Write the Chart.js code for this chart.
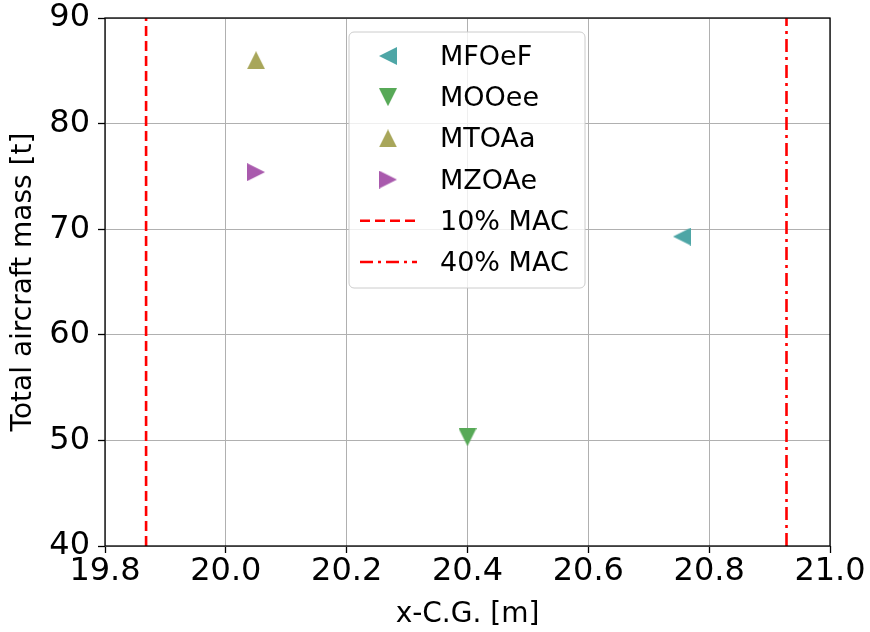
<!DOCTYPE html>
<html>
<head>
<meta charset="utf-8">
<script src="https://cdn.jsdelivr.net/npm/chart.js@4"></script>
<style>
  html, body { margin: 0; padding: 0; background: #fff; }
  #wrap { width: 870px; height: 632px; position: relative; }
</style>
</head>
<body>
<div id="wrap"><canvas id="cgChart"></canvas></div>
<script>
// --- data ---
const seriesNames = ['MFOeF', 'MOOee', 'MTOAa', 'MZOAe'];
const seriesX = [20.755, 20.40, 20.05, 20.05];
const seriesY = [69.3, 50.3, 86.0, 75.4];
const seriesColors = ['#4ea6a6', '#57a957', '#a8a65a', '#a95aad'];
const seriesRotation = [270, 180, 0, 90]; // left, down, up, right

const macNames = ['10% MAC', '40% MAC'];
const macX = [19.868, 20.928];
const macDash = [[10, 5], [13, 5, 3, 5]];

const xTickValues = [19.8, 20.0, 20.2, 20.4, 20.6, 20.8, 21.0];
const yTickValues = [40, 50, 60, 70, 80, 90];

Chart.defaults.font.family = 'DejaVu Sans';
Chart.defaults.color = '#000';

// matplotlib-like isosceles triangle, apex up; rotated by Chart.js
function triangle(color) {
  const c = document.createElement('canvas');
  c.width = 18; c.height = 18;
  const g = c.getContext('2d');
  g.fillStyle = color;
  g.beginPath();
  g.moveTo(9, 0); g.lineTo(18, 18); g.lineTo(0, 18);
  g.closePath(); g.fill();
  return c;
}

const datasets = [];
seriesNames.forEach((name, i) => {
  datasets.push({
    type: 'scatter',
    label: name,
    data: [{ x: seriesX[i], y: seriesY[i] }],
    pointStyle: triangle(seriesColors[i]),
    rotation: seriesRotation[i],
    backgroundColor: seriesColors[i],
    borderColor: seriesColors[i]
  });
});
macNames.forEach((name, i) => {
  datasets.push({
    type: 'line',
    label: name,
    data: [{ x: macX[i], y: yTickValues[0] }, { x: macX[i], y: yTickValues[yTickValues.length - 1] }],
    borderColor: '#ff0000',
    borderWidth: 2.6,
    borderDash: macDash[i],
    pointRadius: 0,
    fill: false
  });
});

// top/right spines + full frame
const frame = {
  id: 'frame',
  afterDatasetsDraw(chart) {
    const { ctx, chartArea: a } = chart;
    ctx.save();
    ctx.strokeStyle = '#000';
    ctx.lineWidth = 1.3;
    ctx.strokeRect(a.left, a.top, a.right - a.left, a.bottom - a.top);
    ctx.restore();
  }
};

// legend box drawn inside the plot, like matplotlib
const legendBox = {
  id: 'legendBox',
  afterDraw(chart) {
    const ctx = chart.ctx;
    const x0 = 349, y0 = 32, w = 236, h = 256, row = 41.2;
    ctx.save();
    ctx.beginPath();
    ctx.roundRect(x0, y0, w, h, 5);
    ctx.fillStyle = 'rgba(255,255,255,0.8)';
    ctx.fill();
    ctx.strokeStyle = '#cccccc';
    ctx.lineWidth = 1;
    ctx.stroke();

    chart.data.datasets.forEach((ds, i) => {
      const cy = y0 + 24 + i * row;
      if (ds.type === 'line') {
        ctx.beginPath();
        ctx.setLineDash(ds.borderDash);
        ctx.strokeStyle = ds.borderColor;
        ctx.lineWidth = ds.borderWidth;
        ctx.moveTo(x0 + 11, cy);
        ctx.lineTo(x0 + 68, cy);
        ctx.stroke();
        ctx.setLineDash([]);
      } else {
        ctx.save();
        ctx.translate(x0 + 39, cy);
        ctx.rotate(ds.rotation * Math.PI / 180);
        ctx.drawImage(ds.pointStyle, -9, -9);
        ctx.restore();
      }
      ctx.fillStyle = '#000';
      ctx.font = '27px "DejaVu Sans"';
      ctx.textBaseline = 'middle';
      ctx.textAlign = 'left';
      ctx.fillText(ds.label, x0 + 91, cy + 2);
    });
    ctx.restore();
  }
};

new Chart(document.getElementById('cgChart'), {
  type: 'scatter',
  data: { datasets },
  options: {
    responsive: true,
    maintainAspectRatio: false,
    animation: false,
    events: [],
    layout: { padding: { top: 18, right: 40, bottom: 0, left: 0 } },
    plugins: { legend: { display: false }, tooltip: { enabled: false } },
    scales: {
      x: {
        type: 'linear',
        min: xTickValues[0],
        max: xTickValues[xTickValues.length - 1],
        afterBuildTicks: s => { s.ticks = xTickValues.map(v => ({ value: v })); },
        afterFit: s => { s.height = 86; s.paddingLeft = 0; s.paddingRight = 0; },
        ticks: {
          callback: v => v.toFixed(1),
          font: { size: 32, lineHeight: 1 },
          color: '#000',
          padding: 3,
          maxRotation: 0,
          autoSkip: false
        },
        grid: { color: '#b0b0b0', lineWidth: 1, tickColor: '#000', tickLength: 7, tickWidth: 1.3 },
        border: { display: false },
        title: { display: true, text: 'x-C.G. [m]', font: { size: 28 }, color: '#000', padding: { top: 0, bottom: 0 } }
      },
      y: {
        type: 'linear',
        min: yTickValues[0],
        max: yTickValues[yTickValues.length - 1],
        afterBuildTicks: s => { s.ticks = yTickValues.map(v => ({ value: v })); },
        afterFit: s => { s.width = 105; s.paddingTop = 0; s.paddingBottom = 0; },
        ticks: {
          callback: v => String(v),
          font: { size: 32, lineHeight: 1 },
          color: '#000',
          padding: 8
        },
        grid: { color: '#b0b0b0', lineWidth: 1, tickColor: '#000', tickLength: 7, tickWidth: 1.3 },
        border: { display: false },
        title: { display: true, text: 'Total aircraft mass [t]', font: { size: 28 }, color: '#000', padding: { top: 7, bottom: 0 } }
      }
    }
  },
  plugins: [frame, legendBox]
});
</script>
</body>
</html>
